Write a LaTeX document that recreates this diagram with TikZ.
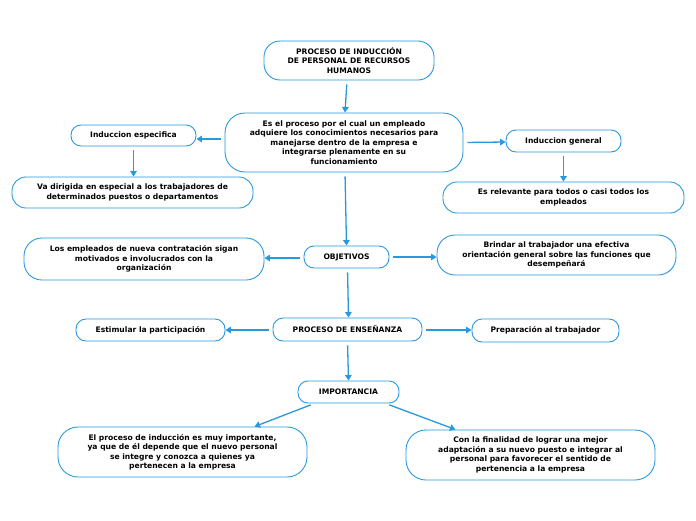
\documentclass[tikz,border=0pt]{standalone}
\usepackage{fontspec}
\setmainfont{DejaVu Sans}
\usetikzlibrary{arrows.meta,positioning,calc}
\definecolor{mblue}{RGB}{42,152,222}
\begin{document}
\begin{tikzpicture}[x=1pt,y=-1pt,
  box/.style={draw=mblue,line width=0.9pt,fill=white,align=center,inner sep=0pt,
    font=\fontsize{7.6}{9.5}\selectfont\bfseries,text=black},
  conn/.style={draw=mblue,line width=1.3pt,-{Triangle[width=6.5pt,length=5.5pt]},shorten <=4pt}]
\useasboundingbox (0,0) rectangle (696,520);
\fill[white] (0,0) rectangle (696,520);
\node[box,minimum width=170pt,minimum height=39pt,rounded corners=16pt] (title) at (349,60.5)
  {PROCESO DE INDUCCIÓN\\DE PERSONAL DE RECURSOS\\HUMANOS};
\node[box,minimum width=238pt,minimum height=59pt,rounded corners=20pt] (def) at (344,142.5)
  {Es el proceso por el cual un empleado\\adquiere los conocimientos necesarios para\\manejarse dentro de la empresa e\\integrarse plenamente en su\\funcionamiento};
\node[box,minimum width=125pt,minimum height=21pt,rounded corners=10pt] (esp) at (133.5,135.5)
  {Induccion especifica};
\node[box,minimum width=241pt,minimum height=31pt,rounded corners=14pt] (vad) at (132.5,192.5)
  {Va dirigida en especial a los trabajadores de\\determinados puestos o departamentos};
\node[box,minimum width=115pt,minimum height=22pt,rounded corners=10pt] (gen) at (563.5,141)
  {Induccion general};
\node[box,minimum width=241pt,minimum height=31pt,rounded corners=14pt] (rel) at (563.5,197.5)
  {Es relevante para todos o casi todos los\\empleados};
\node[box,minimum width=85pt,minimum height=22pt,rounded corners=10pt] (obj) at (346.5,257)
  {OBJETIVOS};
\node[box,minimum width=240pt,minimum height=42pt,rounded corners=18pt] (emp) at (144,259)
  {Los empleados de nueva contratación sigan\\motivados e involucrados con la\\organización};
\node[box,minimum width=239pt,minimum height=40pt,rounded corners=18pt] (bri) at (556.5,255)
  {Brindar al trabajador una efectiva\\orientación general sobre las funciones que\\desempeñará};
\node[box,minimum width=149pt,minimum height=23pt,rounded corners=10pt] (ens) at (347.5,329.5)
  {PROCESO DE ENSEÑANZA};
\node[box,minimum width=149pt,minimum height=22pt,rounded corners=10pt] (est) at (150.5,330)
  {Estimular la participación};
\node[box,minimum width=147pt,minimum height=23pt,rounded corners=10pt] (pre) at (545.5,330.5)
  {Preparación al trabajador};
\node[box,minimum width=101pt,minimum height=22pt,rounded corners=10pt] (imp) at (348.5,392)
  {IMPORTANCIA};
\node[box,minimum width=249pt,minimum height=50pt,rounded corners=20pt] (epr) at (182.5,452)
  {El proceso de inducción es muy importante,\\ya que de él depende que el nuevo personal\\se integre y conozca a quienes ya\\pertenecen a la empresa};
\node[box,minimum width=249pt,minimum height=50pt,rounded corners=20pt] (fin) at (530.5,455)
  {Con la finalidad de lograr una mejor\\adaptación a su nuevo puesto e integrar al\\personal para favorecer el sentido de\\pertenencia a la empresa};
% connectors
\draw[conn] ([xshift=-2pt]title.south) -- ([xshift=1pt]def.north);
\draw[conn] ([yshift=3.5pt]def.west) -- ([yshift=-3.5pt]esp.east);
\draw[conn] (def.east) -- ([yshift=-1pt]gen.west);
\draw[conn] ([xshift=1pt]def.south) -- (obj.north);
\draw[conn] (esp.south) -- ([xshift=1pt]vad.north);
\draw[conn] (gen.south) -- (rel.north);
\draw[conn] ([yshift=-1pt]obj.west) -- ([yshift=1pt]emp.east);
\draw[conn] (obj.east) -- ([yshift=-2pt]bri.west);
\draw[conn] ([xshift=1pt]obj.south) -- ([xshift=1pt]ens.north);
\draw[conn] ([yshift=-0.5pt]ens.west) -- (est.east);
\draw[conn] ([yshift=-0.5pt]ens.east) -- ([yshift=0.5pt]pre.west);
\draw[conn] (ens.south) -- (imp.north);
\draw[conn] ([xshift=-34pt]imp.south) -- ([xshift=72pt]epr.north);
\draw[conn] ([xshift=37pt]imp.south) -- ([xshift=-75pt]fin.north);
\end{tikzpicture}
\end{document}
